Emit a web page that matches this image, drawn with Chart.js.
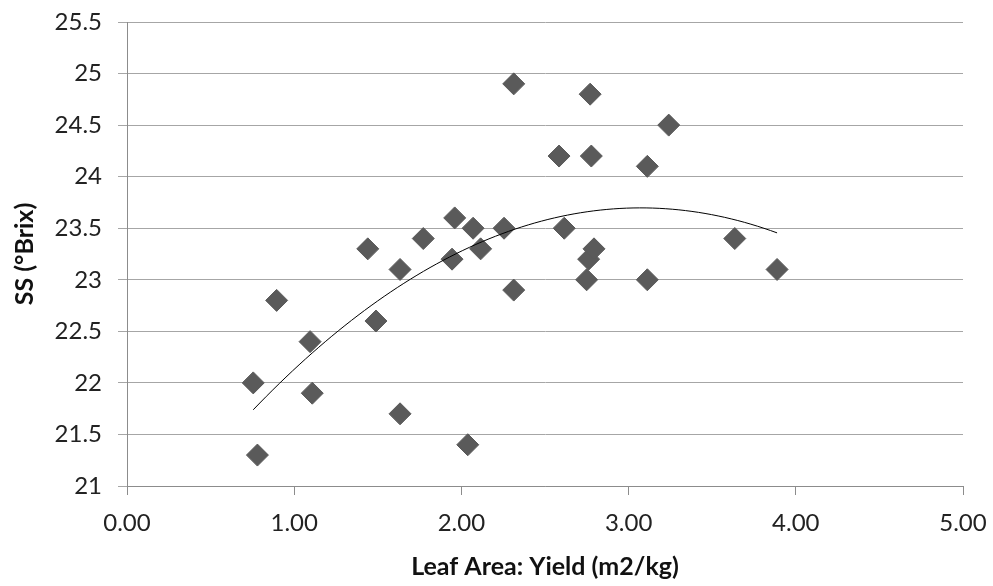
<!DOCTYPE html>
<html>
<head>
<meta charset="utf-8">
<script src="https://cdn.jsdelivr.net/npm/chart.js@4"></script>
<style>
  html, body { margin: 0; padding: 0; background: #fff; }
  #wrap { width: 993px; height: 586px; position: relative; }
</style>
</head>
<body>
<div id="wrap"><canvas id="c" width="993" height="586"></canvas></div>
<script>
// Leaf Area : Yield (m2/kg)
const leafAreaYield = [0.755, 0.78, 0.895, 1.095, 1.108, 1.44, 1.489, 1.633, 1.633, 1.772,
  1.944, 1.96, 2.038, 2.07, 2.115, 2.255, 2.313, 2.313, 2.584, 2.615,
  2.749, 2.761, 2.77, 2.777, 2.793, 3.112, 3.112, 3.24, 3.635, 3.888];
// SS (°Brix)
const solubleSolids = [22.0, 21.3, 22.8, 22.4, 21.9, 23.3, 22.6, 23.1, 21.7, 23.4,
  23.2, 23.6, 21.4, 23.5, 23.3, 23.5, 22.9, 24.9, 24.2, 23.5,
  23.0, 23.2, 24.8, 24.2, 23.3, 24.1, 23.0, 24.5, 23.4, 23.1];
const xTicks = [0, 1, 2, 3, 4, 5];
const yTicks = [21, 21.5, 22, 22.5, 23, 23.5, 24, 24.5, 25, 25.5];

const points = leafAreaYield.map((x, i) => ({ x: x, y: solubleSolids[i] }));

// Second-order polynomial (least squares) trendline computed from the data
function polyFit2(xs, ys) {
  let n = xs.length, s1 = 0, s2 = 0, s3 = 0, s4 = 0, t0 = 0, t1 = 0, t2 = 0;
  for (let i = 0; i < n; i++) {
    const x = xs[i], y = ys[i];
    s1 += x; s2 += x * x; s3 += x * x * x; s4 += x * x * x * x;
    t0 += y; t1 += x * y; t2 += x * x * y;
  }
  const A = [[n, s1, s2, t0], [s1, s2, s3, t1], [s2, s3, s4, t2]];
  for (let i = 0; i < 3; i++) {
    for (let j = i + 1; j < 3; j++) {
      const f = A[j][i] / A[i][i];
      for (let k = i; k < 4; k++) A[j][k] -= f * A[i][k];
    }
  }
  const c = [0, 0, 0];
  for (let i = 2; i >= 0; i--) {
    let s = A[i][3];
    for (let k = i + 1; k < 3; k++) s -= A[i][k] * c[k];
    c[i] = s / A[i][i];
  }
  return c;
}
const coef = polyFit2(leafAreaYield, solubleSolids);
const xMin = Math.min(...leafAreaYield), xMax = Math.max(...leafAreaYield);
const trend = [];
const steps = 80;
for (let i = 0; i <= steps; i++) {
  const x = xMin + (xMax - xMin) * i / steps;
  trend.push({ x: x, y: coef[0] + coef[1] * x + coef[2] * x * x });
}

const FONT = "Lato, 'Open Sans', sans-serif";

new Chart(document.getElementById('c'), {
  type: 'scatter',
  data: {
    datasets: [
      {
        type: 'line',
        data: trend,
        borderColor: '#000000',
        borderWidth: 1,
        pointRadius: 0,
        fill: false,
        tension: 0
      },
      {
        data: points,
        pointStyle: 'rectRot',
        pointRadius: 11,
        pointHoverRadius: 11,
        backgroundColor: '#5a5a5a',
        borderColor: '#5a5a5a',
        borderWidth: 1
      }
    ]
  },
  options: {
    responsive: false,
    animation: false,
    devicePixelRatio: 1,
    layout: { padding: { left: 0, right: 30, top: 22, bottom: 0 } },
    plugins: { legend: { display: false }, tooltip: { enabled: false } },
    scales: {
      x: {
        type: 'linear',
        min: 0, max: 5,
        afterBuildTicks: (s) => { s.ticks = xTicks.map(v => ({ value: v })); },
        afterFit: (s) => { s.height = 100; s.paddingLeft = 0; s.paddingRight = 0; },
        border: { display: true, color: '#8c8c8c', width: 1 },
        grid: { drawOnChartArea: false, drawTicks: true, tickLength: 9, color: '#8c8c8c' },
        ticks: {
          padding: 14,
          color: '#222',
          font: { family: FONT, size: 24 },
          callback: (v) => Number(v).toFixed(2),
          maxRotation: 0
        },
        title: {
          display: true,
          text: 'Leaf Area: Yield (m2/kg)',
          color: '#111',
          font: { family: FONT, size: 25, weight: 'bold' },
          padding: { top: 0, bottom: 4 }
        }
      },
      y: {
        type: 'linear',
        min: 21, max: 25.5,
        afterBuildTicks: (s) => { s.ticks = yTicks.map(v => ({ value: v })); },
        afterFit: (s) => { s.width = 127; s.paddingTop = 0; s.paddingBottom = 0; },
        border: { display: true, color: '#8c8c8c', width: 1 },
        grid: { color: '#a6a6a6', lineWidth: 1, drawTicks: true, tickLength: 9 },
        ticks: {
          padding: 16,
          color: '#222',
          font: { family: FONT, size: 24 },
          callback: (v) => String(v)
        },
        title: {
          display: true,
          text: 'SS (°Brix)',
          color: '#111',
          font: { family: FONT, size: 25, weight: 'bold' },
          padding: { top: 10, bottom: 0 }
        }
      }
    }
  }
});
</script>
</body>
</html>
